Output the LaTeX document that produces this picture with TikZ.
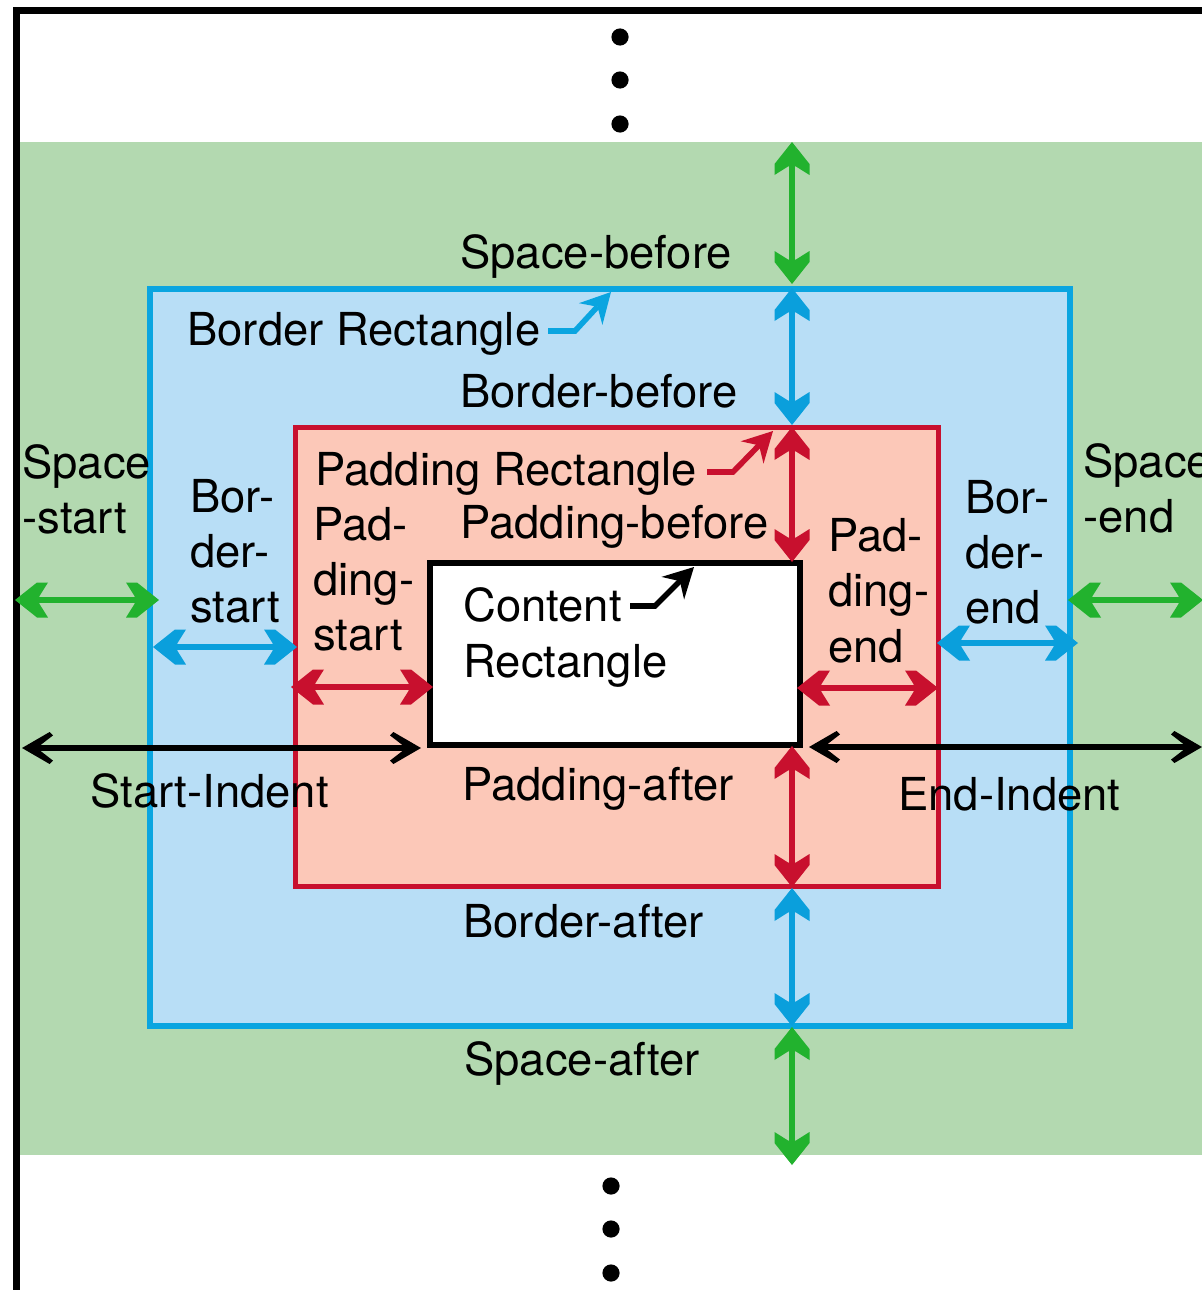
\documentclass[tikz,border=0pt]{standalone}
\usepackage{fontspec}
\setmainfont{TeX Gyre Heros}
\usetikzlibrary{arrows.meta}
\definecolor{spgreen}{HTML}{B3D9B0}
\definecolor{bdfill}{HTML}{B8DEF6}
\definecolor{bdline}{HTML}{0AA5E0}
\definecolor{pdfill}{HTML}{FCC8B8}
\definecolor{pdline}{HTML}{C8102E}
\definecolor{arrgreen}{HTML}{22B22E}
\definecolor{arrblue}{HTML}{0A9FDC}
\definecolor{arrred}{HTML}{C8102E}
% fat chevron tip for the coloured dimension arrows
\pgfdeclarearrow{
  name = ColChev,
  setup code = {
    \pgfarrowssettipend{0pt}
    \pgfarrowssetlineend{-11.5pt}
    \pgfarrowssetbackend{-16.5pt}
    \pgfarrowshullpoint{0pt}{0pt}
    \pgfarrowsupperhullpoint{-16.5pt}{8.75pt}
  },
  drawing code = {
    \pgfpathmoveto{\pgfqpoint{0pt}{0pt}}
    \pgfpathlineto{\pgfqpoint{-11pt}{8.75pt}}
    \pgfpathlineto{\pgfqpoint{-16.5pt}{8.75pt}}
    \pgfpathlineto{\pgfqpoint{-12.2pt}{1.9pt}}
    \pgfpathlineto{\pgfqpoint{-12.2pt}{-1.9pt}}
    \pgfpathlineto{\pgfqpoint{-16.5pt}{-8.75pt}}
    \pgfpathlineto{\pgfqpoint{-11pt}{-8.75pt}}
    \pgfpathclose
    \pgfusepathqfill
  }
}
% thick chevron tip for the black indent arrows
\pgfdeclarearrow{
  name = BlkChev,
  setup code = {
    \pgfarrowssettipend{0pt}
    \pgfarrowssetlineend{-8.5pt}
    \pgfarrowssetbackend{-15.5pt}
    \pgfarrowshullpoint{0pt}{0pt}
    \pgfarrowsupperhullpoint{-15.5pt}{8pt}
  },
  drawing code = {
    \pgfpathmoveto{\pgfqpoint{0pt}{0pt}}
    \pgfpathlineto{\pgfqpoint{-13.8pt}{8pt}}
    \pgfpathlineto{\pgfqpoint{-15.5pt}{6.3pt}}
    \pgfpathlineto{\pgfqpoint{-9.3pt}{1.5pt}}
    \pgfpathlineto{\pgfqpoint{-9.3pt}{-1.5pt}}
    \pgfpathlineto{\pgfqpoint{-15.5pt}{-6.3pt}}
    \pgfpathlineto{\pgfqpoint{-13.8pt}{-8pt}}
    \pgfpathclose
    \pgfusepathqfill
  }
}
\begin{document}
\begin{tikzpicture}[x=0.5pt,y=-0.5pt,
  lbl/.style={anchor=base west, inner sep=0pt, font=\fontsize{22.7}{27.5}\selectfont},
  pst/.tip={Stealth[length=15pt,width=16pt,inset=5pt,line width=0pt]},
  dimarrow/.style={line width=3.3pt, ColChev-ColChev},
  blkarrow/.style={line width=3pt, BlkChev-BlkChev},
  ptrarrow/.style={line width=2.8pt, -pst},
  dotmark/.style={circle, fill=black, inner sep=0pt, minimum size=8.6pt}
]
\useasboundingbox (0,0) rectangle (1202,1290);
\clip (0,0) rectangle (1202,1290);
\fill[white] (0,0) rectangle (1202,1290);
% space band
\fill[spgreen] (20,142) rectangle (1210,1155);
% border rectangle
\draw[bdline, fill=bdfill, line width=3pt] (150,289) rectangle (1070,1026);
% padding rectangle
\draw[pdline, fill=pdfill, line width=2.5pt] (295,427) rectangle (938,886);
% content rectangle
\draw[black, fill=white, line width=3pt] (430,563) rectangle (800,745);
% outer frame
\draw[line width=3.5pt] (16,1300) -- (16,10) -- (1210,10);

% dots
\node[dotmark] (d1) at (620,37) {};
\node[dotmark] (d2) at (620,80) {};
\node[dotmark] (d3) at (620,124) {};
\node[dotmark] (d4) at (611,1186) {};
\node[dotmark] (d5) at (611,1229) {};
\node[dotmark] (d6) at (611,1273) {};

% vertical dimension arrows
\coordinate (vg1a) at (792,142);  \coordinate (vg1b) at (792,284);
\coordinate (vb1a) at (792,288);  \coordinate (vb1b) at (792,425);
\coordinate (vr1a) at (792,427);  \coordinate (vr1b) at (792,562);
\coordinate (vr2a) at (792,746);  \coordinate (vr2b) at (792,887);
\coordinate (vb2a) at (792,888);  \coordinate (vb2b) at (792,1026);
\coordinate (vg2a) at (792,1027); \coordinate (vg2b) at (792,1165);
\draw[dimarrow, arrgreen] (vg1a) -- (vg1b);
\draw[dimarrow, arrblue] (vb1a) -- (vb1b);
\draw[dimarrow, arrred] (vr1a) -- (vr1b);
\draw[dimarrow, arrred] (vr2a) -- (vr2b);
\draw[dimarrow, arrblue] (vb2a) -- (vb2b);
\draw[dimarrow, arrgreen] (vg2a) -- (vg2b);

% horizontal dimension arrows
\coordinate (hgla) at (15,600);   \coordinate (hglb) at (159,600);
\coordinate (hbla) at (153,647);  \coordinate (hblb) at (297,647);
\coordinate (hrla) at (291,687);  \coordinate (hrlb) at (433,687);
\coordinate (hgra) at (1068,600); \coordinate (hgrb) at (1203,600);
\coordinate (hbra) at (937,643);  \coordinate (hbrb) at (1078,643);
\coordinate (hrra) at (797,688);  \coordinate (hrrb) at (938,688);
\draw[dimarrow, arrgreen] (hgla) -- (hglb);
\draw[dimarrow, arrblue] (hbla) -- (hblb);
\draw[dimarrow, arrred] (hrla) -- (hrlb);
\draw[dimarrow, arrgreen] (hgra) -- (hgrb);
\draw[dimarrow, arrblue] (hbra) -- (hbrb);
\draw[dimarrow, arrred] (hrra) -- (hrrb);

% indent arrows
\coordinate (sia) at (22,748);  \coordinate (sib) at (421,748);
\coordinate (eia) at (809,747); \coordinate (eib) at (1202,747);
\draw[blkarrow] (sia) -- (sib);
\draw[blkarrow] (eia) -- (eib);

% pointer arrows
\coordinate (pb1) at (548,331); \coordinate (pb2) at (575,331); \coordinate (pb3) at (611,292);
\coordinate (pp1) at (707,472); \coordinate (pp2) at (733,472); \coordinate (pp3) at (773,431);
\coordinate (pc1) at (630,606); \coordinate (pc2) at (655,606); \coordinate (pc3) at (694,567);
\draw[ptrarrow, bdline] (pb1) -- (pb2) -- (pb3);
\draw[ptrarrow, arrred] (pp1) -- (pp2) -- (pp3);
\draw[ptrarrow, black] (pc1) -- (pc2) -- (pc3);

% labels
\node[lbl] (spbefore) at (460,268) {Space-before};
\node[lbl] (brect) at (187,345) {Border Rectangle};
\node[lbl] (bdbefore) at (460,407) {Border-before};
\node[lbl] (prect) at (315,485) {Padding Rectangle};
\node[lbl] (pdbefore) at (460,538) {Padding-before};
\node[lbl] (ps1) at (313,540) {Pad-};
\node[lbl] (ps2) at (313,595) {ding-};
\node[lbl] (ps3) at (313,650) {start};
\node[lbl] (bs1) at (190,512) {Bor-};
\node[lbl] (bs2) at (190,567) {der-};
\node[lbl] (bs3) at (190,622) {start};
\node[lbl] (ss1) at (22,478) {Space};
\node[lbl] (ss2) at (22,533) {-start};
\node[lbl] (cr1) at (463,621) {Content};
\node[lbl] (cr2) at (463,677) {Rectangle};
\node[lbl] (pe1) at (828,551) {Pad-};
\node[lbl] (pe2) at (828,606) {ding-};
\node[lbl] (pe3) at (828,662) {end};
\node[lbl] (be1) at (965,513) {Bor-};
\node[lbl] (be2) at (965,568) {der-};
\node[lbl] (be3) at (965,623) {end};
\node[lbl] (se1) at (1083,477) {Space};
\node[lbl] (se2) at (1083,532) {-end};
\node[lbl] (sind) at (90,807) {Start-Indent};
\node[lbl] (pdafter) at (462,800) {Padding-after};
\node[lbl] (eind) at (898,810) {End-Indent};
\node[lbl] (bdafter) at (463,937) {Border-after};
\node[lbl] (spafter) at (464,1075) {Space-after};
\end{tikzpicture}
\end{document}
